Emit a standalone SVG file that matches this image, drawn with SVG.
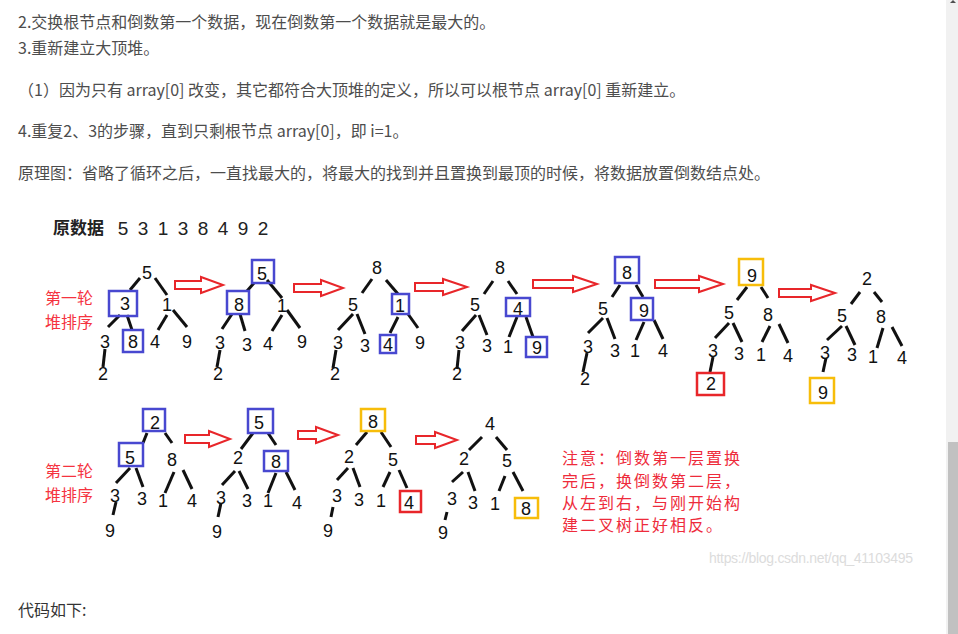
<svg xmlns="http://www.w3.org/2000/svg" width="958" height="634" viewBox="0 0 958 634">
<style>
.b{font-family:"Noto Sans CJK SC","Liberation Sans",sans-serif;font-size:16px;fill:#4d4d4d}
.n{font-family:"Liberation Sans",Arial,sans-serif;font-size:18px;fill:#111;text-anchor:middle}
.e line{stroke:#111;stroke-width:3}
.bx{fill:none;stroke-width:2.5}
.blue{stroke:#4848d0}
.yel{stroke:#f7bd0a}
.red{stroke:#e8262a}
.arr{fill:#fff;stroke:#e8262a;stroke-width:2;stroke-linejoin:miter}
.rl{font-family:"Noto Sans CJK SC",sans-serif;font-size:16px;fill:#f5333f}
.note{font-family:"Noto Sans CJK SC",sans-serif;font-size:16px;fill:#ee2b3b;letter-spacing:2px}
</style>
<rect width="958" height="634" fill="#fff"/>
<!-- body text -->
<g id="body-text">
<text class="b" x="18" y="28">2.交换根节点和倒数第一个数据，现在倒数第一个数据就是最大的。</text>
<text class="b" x="18" y="53.5">3.重新建立大顶堆。</text>
<text class="b" x="18" y="95.5">（1）因为只有 array[0] 改变，其它都符合大顶堆的定义，所以可以根节点 array[0] 重新建立。</text>
<text class="b" x="18" y="137">4.重复2、3的步骤，直到只剩根节点 array[0]，即 i=1。</text>
<text class="b" x="18" y="179">原理图：省略了循环之后，一直找最大的，将最大的找到并且置换到最顶的时候，将数据放置倒数结点处。</text>
<text class="b" x="18" y="616" style="fill:#333">代码如下:</text>
</g>
<!-- title -->
<g id="title">
<text x="53" y="234" style="font-family:'Noto Sans CJK SC',sans-serif;font-size:17px;font-weight:bold;fill:#222">原数据</text>
<text class="n" style="font-size:19px;fill:#222" x="123 143 163 183 203 223 243 263" y="235">53138492</text>
</g>
<g id="labels">
<text class="rl" x="45" y="304">第一轮</text>
<text class="rl" x="45" y="328">堆排序</text>
<text class="rl" x="45" y="477">第二轮</text>
<text class="rl" x="45" y="501">堆排序</text>
</g>
<g id="note">
<text class="note" x="562" y="464">注意：倒数第一层置换</text>
<text class="note" x="562" y="487">完后，换倒数第二层，</text>
<text class="note" x="562" y="509">从左到右，与刚开始构</text>
<text class="note" x="562" y="531">建二叉树正好相反。</text>
</g>
<text id="watermark" x="709" y="563" textLength="204" style="font-family:'Liberation Sans',sans-serif;font-size:14px;fill:#dcdcdc">https://blog.csdn.net/qq_41103495</text>
<!-- connectors -->
<g id="connectors">
<g class="e">
<!-- t1 -->
<line x1="140" y1="278" x2="130" y2="290"/><line x1="155" y1="278" x2="167" y2="295"/><line x1="120" y1="315" x2="108" y2="327"/><line x1="127" y1="315" x2="132" y2="330"/><line x1="167" y1="315" x2="158" y2="330"/><line x1="173" y1="310" x2="187" y2="327"/><line x1="105" y1="349" x2="103" y2="367"/>
<!-- t2 -->
<line x1="254" y1="283" x2="247" y2="291"/><line x1="267" y1="280" x2="282" y2="298"/><line x1="232" y1="314" x2="222" y2="329"/><line x1="240" y1="314" x2="245" y2="331"/><line x1="282" y1="315" x2="272" y2="331"/><line x1="287" y1="310" x2="300" y2="328"/><line x1="220" y1="350" x2="217" y2="367"/>
<!-- t3 -->
<line x1="372" y1="279" x2="362" y2="293"/><line x1="386" y1="280" x2="398" y2="294"/><line x1="353" y1="314" x2="338" y2="330"/><line x1="357" y1="314" x2="365" y2="334"/><line x1="398" y1="317" x2="390" y2="333"/><line x1="408" y1="314" x2="418" y2="328"/><line x1="336" y1="350" x2="333" y2="368"/>
<!-- t4 -->
<line x1="493" y1="281" x2="484" y2="294"/><line x1="508" y1="281" x2="517" y2="294"/><line x1="476" y1="315" x2="462" y2="331"/><line x1="479" y1="315" x2="487" y2="335"/><line x1="517" y1="317" x2="509" y2="337"/><line x1="526" y1="317" x2="533" y2="337"/><line x1="459" y1="350" x2="457" y2="369"/>
<!-- t5 -->
<line x1="620" y1="285" x2="612" y2="297"/><line x1="636" y1="285" x2="643" y2="297"/><line x1="603" y1="318" x2="588" y2="333"/><line x1="607" y1="318" x2="615" y2="339"/><line x1="644" y1="322" x2="636" y2="340"/><line x1="654" y1="320" x2="663" y2="339"/><line x1="587" y1="353" x2="583" y2="372"/>
<!-- t6 -->
<line x1="747" y1="287" x2="737" y2="300"/><line x1="761" y1="287" x2="768" y2="298"/><line x1="729" y1="323" x2="715" y2="338"/><line x1="733" y1="323" x2="742" y2="342"/><line x1="770" y1="326" x2="762" y2="342"/><line x1="779" y1="324" x2="788" y2="343"/><line x1="713" y1="357" x2="710" y2="372"/>
<!-- t7 -->
<line x1="860" y1="292" x2="851" y2="304"/><line x1="874" y1="292" x2="882" y2="302"/><line x1="842" y1="326" x2="827" y2="340"/><line x1="846" y1="326" x2="855" y2="345"/><line x1="883" y1="328" x2="877" y2="348"/><line x1="892" y1="327" x2="902" y2="346"/><line x1="826" y1="358" x2="823" y2="372"/>
<!-- t8 -->
<line x1="147" y1="433" x2="143" y2="443"/><line x1="165" y1="433" x2="172" y2="443"/><line x1="130" y1="468" x2="116" y2="483"/><line x1="136" y1="468" x2="143" y2="487"/><line x1="174" y1="472" x2="165" y2="493"/><line x1="183" y1="470" x2="192" y2="489"/><line x1="116" y1="502" x2="113" y2="515"/>
<!-- t9 -->
<line x1="253" y1="433" x2="241" y2="449"/><line x1="268" y1="433" x2="276" y2="445"/><line x1="235" y1="471" x2="222" y2="485"/><line x1="239" y1="471" x2="248" y2="489"/><line x1="276" y1="473" x2="268" y2="493"/><line x1="286" y1="472" x2="295" y2="490"/><line x1="221" y1="503" x2="218" y2="517"/>
<!-- t10 -->
<line x1="367" y1="432" x2="356" y2="445"/><line x1="381" y1="432" x2="391" y2="447"/><line x1="348" y1="468" x2="337" y2="480"/><line x1="353" y1="468" x2="360" y2="487"/><line x1="390" y1="472" x2="383" y2="487"/><line x1="399" y1="470" x2="407" y2="488"/><line x1="333" y1="507" x2="331" y2="517"/>
<!-- t11 -->
<line x1="482" y1="437" x2="469" y2="450"/><line x1="496" y1="437" x2="507" y2="450"/><line x1="463" y1="472" x2="452" y2="482"/><line x1="468" y1="472" x2="475" y2="491"/><line x1="505" y1="476" x2="499" y2="491"/><line x1="513" y1="472" x2="523" y2="491"/><line x1="447" y1="512" x2="445" y2="520"/>
</g>
<!-- red block arrows -->
<path class="arr" d="M175,281 H201 V277 L223,285 L201,293 V289 H175 Z"/>
<path class="arr" d="M294,284 H321 V280 L343,288 L321,296 V292 H294 Z"/>
<path class="arr" d="M415,283 H443 V279 L467,287 L443,295 V291 H415 Z"/>
<path class="arr" d="M533,280 H573 V276 L597,284 L573,292 V288 H533 Z"/>
<path class="arr" d="M655,280 H699 V276 L723,284 L699,292 V288 H655 Z"/>
<path class="arr" d="M779,289 H811 V285 L835,293 L811,301 V297 H779 Z"/>
<path class="arr" d="M185,435 H209 V431 L230,439 L209,447 V443 H185 Z"/>
<path class="arr" d="M298,431 H316 V427 L338,435 L316,443 V439 H298 Z"/>
<path class="arr" d="M416,436 H435 V432 L457,440 L435,448 V444 H416 Z"/>
</g>
<!-- tree 1 -->
<g id="t1">
<g id="t1-5"><text class="n" x="147" y="278.5">5</text></g>
<g id="t1-3a"><rect class="bx blue" x="109" y="291" width="28" height="25"/><text class="n" x="125" y="309.5">3</text></g>
<g id="t1-1"><text class="n" x="167" y="310.5">1</text></g>
<g id="t1-3b"><text class="n" x="105" y="347.5">3</text></g>
<g id="t1-8"><rect class="bx blue" x="123" y="330" width="20" height="22"/><text class="n" x="133" y="347.5">8</text></g>
<g id="t1-4"><text class="n" x="155" y="347.5">4</text></g>
<g id="t1-9"><text class="n" x="187" y="347.5">9</text></g>
<g id="t1-2"><text class="n" x="103" y="379.5">2</text></g>
</g>
<!-- tree 2 -->
<g id="t2">
<g id="t2-5"><rect class="bx blue" x="252" y="260" width="22" height="23"/><text class="n" x="262" y="279.5">5</text></g>
<g id="t2-8"><rect class="bx blue" x="227" y="291" width="22" height="23"/><text class="n" x="239" y="310.5">8</text></g>
<g id="t2-1"><text class="n" x="282" y="311.5">1</text></g>
<g id="t2-3a"><text class="n" x="220" y="348.5">3</text></g>
<g id="t2-3b"><text class="n" x="247" y="350.5">3</text></g>
<g id="t2-4"><text class="n" x="268" y="349.5">4</text></g>
<g id="t2-9"><text class="n" x="302" y="347.5">9</text></g>
<g id="t2-2"><text class="n" x="218" y="379.5">2</text></g>
</g>
<!-- tree 3 -->
<g id="t3">
<g id="t3-8"><text class="n" x="377" y="273.5">8</text></g>
<g id="t3-5"><text class="n" x="353" y="310.5">5</text></g>
<g id="t3-1"><rect class="bx blue" x="392" y="294" width="17" height="20"/><text class="n" x="400" y="311.5">1</text></g>
<g id="t3-3a"><text class="n" x="338" y="348.5">3</text></g>
<g id="t3-3b"><text class="n" x="365" y="351.5">3</text></g>
<g id="t3-4"><rect class="bx blue" x="380" y="335" width="16" height="18"/><text class="n" x="388" y="350.5">4</text></g>
<g id="t3-9"><text class="n" x="420" y="348.5">9</text></g>
<g id="t3-2"><text class="n" x="335" y="379.5">2</text></g>
</g>
<!-- tree 4 -->
<g id="t4">
<g id="t4-8"><text class="n" x="500" y="273.5">8</text></g>
<g id="t4-5"><text class="n" x="475" y="310.5">5</text></g>
<g id="t4-4"><rect class="bx blue" x="506" y="298" width="24" height="18"/><text class="n" x="518" y="314.5">4</text></g>
<g id="t4-3a"><text class="n" x="460" y="348.5">3</text></g>
<g id="t4-3b"><text class="n" x="487" y="351.5">3</text></g>
<g id="t4-1"><text class="n" x="508" y="352.5">1</text></g>
<g id="t4-9"><rect class="bx blue" x="526" y="337" width="21" height="20"/><text class="n" x="537" y="353.5">9</text></g>
<g id="t4-2"><text class="n" x="457" y="379.5">2</text></g>
</g>
<!-- tree 5 -->
<g id="t5">
<g id="t5-8"><rect class="bx blue" x="615" y="257" width="24" height="26"/><text class="n" x="627" y="278.5">8</text></g>
<g id="t5-5"><text class="n" x="603" y="314.5">5</text></g>
<g id="t5-9"><rect class="bx blue" x="631" y="298" width="22" height="22"/><text class="n" x="644" y="316.5">9</text></g>
<g id="t5-3a"><text class="n" x="588" y="352.5">3</text></g>
<g id="t5-3b"><text class="n" x="615" y="356.5">3</text></g>
<g id="t5-1"><text class="n" x="635" y="356.5">1</text></g>
<g id="t5-4"><text class="n" x="663" y="356.5">4</text></g>
<g id="t5-2"><text class="n" x="585" y="384.5">2</text></g>
</g>
<!-- tree 6 -->
<g id="t6">
<g id="t6-9"><rect class="bx yel" x="739" y="259" width="24" height="26"/><text class="n" x="752" y="281.5">9</text></g>
<g id="t6-5"><text class="n" x="729" y="318.5">5</text></g>
<g id="t6-8"><text class="n" x="768" y="320.5">8</text></g>
<g id="t6-3a"><text class="n" x="713" y="356.5">3</text></g>
<g id="t6-3b"><text class="n" x="739" y="359.5">3</text></g>
<g id="t6-1"><text class="n" x="761" y="360.5">1</text></g>
<g id="t6-4"><text class="n" x="788" y="361.5">4</text></g>
<g id="t6-2"><rect class="bx red" x="697" y="373" width="27" height="22"/><text class="n" x="711" y="389.5">2</text></g>
</g>
<!-- tree 7 -->
<g id="t7">
<g id="t7-2"><text class="n" x="867" y="284.5">2</text></g>
<g id="t7-5"><text class="n" x="842" y="321.5">5</text></g>
<g id="t7-8"><text class="n" x="881" y="322.5">8</text></g>
<g id="t7-3a"><text class="n" x="825" y="358.5">3</text></g>
<g id="t7-3b"><text class="n" x="852" y="360.5">3</text></g>
<g id="t7-1"><text class="n" x="873" y="362.5">1</text></g>
<g id="t7-4"><text class="n" x="902" y="363.5">4</text></g>
<g id="t7-9"><rect class="bx yel" x="810" y="378" width="24" height="25"/><text class="n" x="823" y="398.5">9</text></g>
</g>
<!-- tree 8 -->
<g id="t8">
<g id="t8-2"><rect class="bx blue" x="143" y="409" width="22" height="22"/><text class="n" x="155" y="428.5">2</text></g>
<g id="t8-5"><rect class="bx blue" x="119" y="443" width="24" height="23"/><text class="n" x="130" y="463.5">5</text></g>
<g id="t8-8"><text class="n" x="172" y="465.5">8</text></g>
<g id="t8-3a"><text class="n" x="115" y="501.5">3</text></g>
<g id="t8-3b"><text class="n" x="142" y="504.5">3</text></g>
<g id="t8-1"><text class="n" x="163" y="506.5">1</text></g>
<g id="t8-4"><text class="n" x="192" y="506.5">4</text></g>
<g id="t8-9"><text class="n" x="110" y="536.5">9</text></g>
</g>
<!-- tree 9 -->
<g id="t9">
<g id="t9-5"><rect class="bx blue" x="248" y="409" width="25" height="24"/><text class="n" x="259" y="428.5">5</text></g>
<g id="t9-2"><text class="n" x="238" y="463.5">2</text></g>
<g id="t9-8"><rect class="bx blue" x="264" y="451" width="24" height="20"/><text class="n" x="276" y="467.5">8</text></g>
<g id="t9-3a"><text class="n" x="221" y="503.5">3</text></g>
<g id="t9-3b"><text class="n" x="247" y="506.5">3</text></g>
<g id="t9-1"><text class="n" x="268" y="506.5">1</text></g>
<g id="t9-4"><text class="n" x="297" y="508.5">4</text></g>
<g id="t9-9"><text class="n" x="217" y="537.5">9</text></g>
</g>
<!-- tree 10 -->
<g id="t10">
<g id="t10-8"><rect class="bx yel" x="361" y="409" width="24" height="22"/><text class="n" x="373" y="427.5">8</text></g>
<g id="t10-2"><text class="n" x="349" y="462.5">2</text></g>
<g id="t10-5"><text class="n" x="393" y="465.5">5</text></g>
<g id="t10-3a"><text class="n" x="337" y="501.5">3</text></g>
<g id="t10-3b"><text class="n" x="359" y="505.5">3</text></g>
<g id="t10-1"><text class="n" x="381" y="506.5">1</text></g>
<g id="t10-4"><rect class="bx red" x="400" y="491" width="21" height="21"/><text class="n" x="409" y="508.5">4</text></g>
<g id="t10-9"><text class="n" x="328" y="536.5">9</text></g>
</g>
<!-- tree 11 -->
<g id="t11">
<g id="t11-4"><text class="n" x="490" y="429.5">4</text></g>
<g id="t11-2"><text class="n" x="464" y="464.5">2</text></g>
<g id="t11-5"><text class="n" x="507" y="466.5">5</text></g>
<g id="t11-3a"><text class="n" x="452" y="504.5">3</text></g>
<g id="t11-3b"><text class="n" x="473" y="508.5">3</text></g>
<g id="t11-1"><text class="n" x="495" y="509.5">1</text></g>
<g id="t11-8"><rect class="bx yel" x="515" y="498" width="23" height="20"/><text class="n" x="526" y="514.5">8</text></g>
<g id="t11-9"><text class="n" x="443" y="538.5">9</text></g>
</g>
<!-- scrollbar -->
<g id="scrollbar">
<rect x="946" y="0" width="12" height="634" fill="#f1f1f1"/>
<rect x="948" y="442" width="10" height="192" fill="#c1c1c1"/>
<path d="M950,3 L953,0 L956,3 Z" fill="#505050"/>
</g>
</svg>
